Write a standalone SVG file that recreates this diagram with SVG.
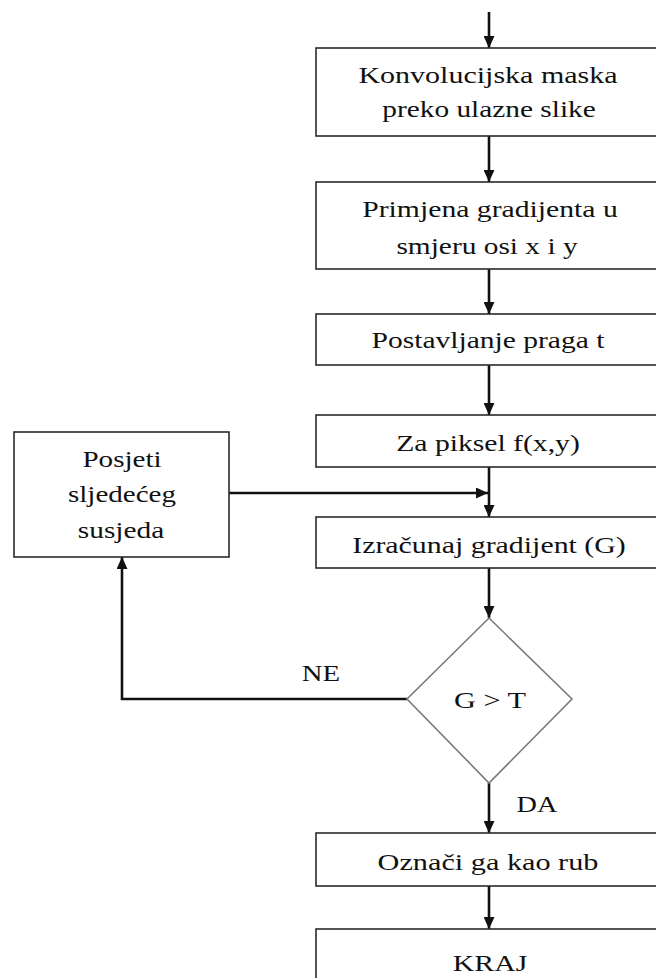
<svg xmlns="http://www.w3.org/2000/svg" width="656" height="978" viewBox="0 0 656 978">
<style>
.box{fill:#fff;stroke:#2a2a2a;stroke-width:1.6}
.dia{fill:#fff;stroke:#7a7a7a;stroke-width:1.6}
.t{font-family:"Liberation Serif","Times New Roman",serif;font-size:24px;fill:#111;text-anchor:middle}
.c{fill:none;stroke:#111;stroke-width:2.6}
</style>
<defs>
<marker id="ah" markerUnits="userSpaceOnUse" markerWidth="13" markerHeight="11" refX="12" refY="5.5" orient="auto">
<path d="M0,0 L12,5.5 L0,11 z" fill="#111"/>
</marker>
</defs>
<rect width="656" height="978" fill="#fff"/>
<g id="connectors">
<path class="c" d="M489,12 V48" marker-end="url(#ah)"/>
<path class="c" d="M489,136 V182" marker-end="url(#ah)"/>
<path class="c" d="M489,269 V314" marker-end="url(#ah)"/>
<path class="c" d="M489,365 V415" marker-end="url(#ah)"/>
<path class="c" d="M489,467 V517" marker-end="url(#ah)"/>
<path class="c" d="M229,493 H488" marker-end="url(#ah)"/>
<path class="c" d="M489,568 V618" marker-end="url(#ah)"/>
<path class="c" d="M407,699 H122 V557" marker-end="url(#ah)"/>
<path class="c" d="M489,783 V833" marker-end="url(#ah)"/>
<path class="c" d="M489,886 V929" marker-end="url(#ah)"/>
<text class="t" transform="translate(321,681) scale(1.2,1)" textLength="32" lengthAdjust="spacingAndGlyphs">NE</text>
<text class="t" transform="translate(537,812) scale(1.2,1)" textLength="34" lengthAdjust="spacingAndGlyphs">DA</text>
</g>
<g id="n1">
<rect class="box" x="316" y="48" width="350" height="88"/>
<text class="t" transform="translate(488,83) scale(1.2,1)" textLength="216" lengthAdjust="spacingAndGlyphs">Konvolucijska maska</text>
<text class="t" transform="translate(489,117) scale(1.2,1)" textLength="178" lengthAdjust="spacingAndGlyphs">preko ulazne slike</text>
</g>
<g id="n2">
<rect class="box" x="316" y="182" width="350" height="87"/>
<text class="t" transform="translate(490,217) scale(1.2,1)" textLength="213" lengthAdjust="spacingAndGlyphs">Primjena gradijenta u</text>
<text class="t" transform="translate(487,254) scale(1.2,1)" textLength="151" lengthAdjust="spacingAndGlyphs">smjeru osi x i y</text>
</g>
<g id="n3">
<rect class="box" x="316" y="314" width="350" height="51"/>
<text class="t" transform="translate(488,348) scale(1.2,1)" textLength="194" lengthAdjust="spacingAndGlyphs">Postavljanje praga t</text>
</g>
<g id="n4">
<rect class="box" x="316" y="415" width="350" height="52"/>
<text class="t" transform="translate(488,451) scale(1.2,1)" textLength="153" lengthAdjust="spacingAndGlyphs">Za piksel f(x,y)</text>
</g>
<g id="n5">
<rect class="box" x="316" y="517" width="350" height="51"/>
<text class="t" transform="translate(489,553) scale(1.2,1)" textLength="228" lengthAdjust="spacingAndGlyphs">Izračunaj gradijent (G)</text>
</g>
<g id="n6">
<rect class="box" x="14" y="432" width="215" height="125"/>
<text class="t" transform="translate(122,467) scale(1.2,1)" textLength="66" lengthAdjust="spacingAndGlyphs">Posjeti</text>
<text class="t" transform="translate(122,502) scale(1.2,1)" textLength="90" lengthAdjust="spacingAndGlyphs">sljedećeg</text>
<text class="t" transform="translate(121,538) scale(1.2,1)" textLength="72" lengthAdjust="spacingAndGlyphs">susjeda</text>
</g>
<g id="n7">
<polygon class="dia" points="489,618 572,699 489,783 407,699"/>
<text class="t" transform="translate(490,708) scale(1.2,1)" textLength="60" lengthAdjust="spacingAndGlyphs">G &gt; T</text>
</g>
<g id="n8">
<rect class="box" x="316" y="833" width="350" height="53"/>
<text class="t" transform="translate(488,870) scale(1.2,1)" textLength="184" lengthAdjust="spacingAndGlyphs">Označi ga kao rub</text>
</g>
<g id="n9">
<rect class="box" x="316" y="929" width="350" height="60"/>
<text class="t" transform="translate(490,971) scale(1.2,1)" textLength="62" lengthAdjust="spacingAndGlyphs">KRAJ</text>
</g>
</svg>
